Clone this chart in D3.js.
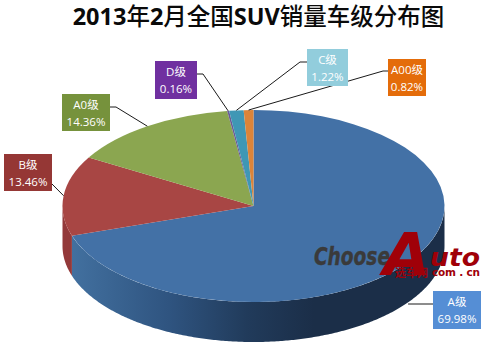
<!DOCTYPE html>
<html>
<head>
<meta charset="utf-8">
<script src="https://cdn.jsdelivr.net/npm/d3@7"></script>
<style>
  html, body { margin: 0; padding: 0; background: #fff; }
  svg { display: block; }
</style>
</head>
<body>
<div id="chart"></div>
<script>
const categories = ["A级", "B级", "A0级", "D级", "C级", "A00级"];
const shares = [69.98, 13.46, 14.36, 0.16, 1.22, 0.82];
const titleParts = ["2013", "年", "2", "月全国", "SUV", "销量车级分布图"];

const topColors = ["#4371a6", "#a84644", "#8ba650", "#6a5a96", "#3f97b5", "#dc8439"];
const sideColors = ["#1b2e48", "#93393a", "#6d843e", "#4f4370", "#2f7690", "#b06a2c"];
const boxColors = ["#558ed5", "#953735", "#76923c", "#7030a0", "#92cddc", "#e46c0a"];

// label box top-left + elbow, by slice
const boxLayout = [
  { x: 433, y: 291, w: 48, h: 38, elbowX: 433, elbowY: 304 },
  { x: 4, y: 154, w: 48, h: 37, elbowX: 52, elbowY: 184 },
  { x: 62, y: 94, w: 48, h: 37, elbowX: 116, elbowY: 107 },
  { x: 155, y: 61, w: 42, h: 38, elbowX: 203, elbowY: 74 },
  { x: 307, y: 49, w: 41, h: 37, elbowX: 300, elbowY: 62 },
  { x: 388, y: 59, w: 38, h: 37, elbowX: 383, elbowY: 71 }
];

const width = 486, height = 353;
const cx = 253.5, cy = 206, rx = 191, ry = 96, depth = 40;

const svg = d3.select("#chart").append("svg")
  .attr("width", width)
  .attr("height", height)
  .style("font-family", "'Open Sans', 'Noto Sans CJK SC', sans-serif");

svg.append("text")
  .attr("x", 258.5)
  .attr("y", 25)
  .attr("text-anchor", "middle")
  .style("font-size", "23.5px")
  .style("fill", "#0a0a0a")
  .selectAll("tspan")
  .data(titleParts)
  .join("tspan")
  .style("font-weight", (d, i) => i % 2 === 0 ? "700" : "500")
  .text(d => d);

const pie = d3.pie().sort(null).value(d => d);
const slices = pie(shares);

const ex = a => cx + rx * Math.sin(a);
const ey = a => cy - ry * Math.cos(a);

const defs = svg.append("defs");
const sideGrad = defs.append("linearGradient")
  .attr("id", "sideA")
  .attr("gradientUnits", "userSpaceOnUse")
  .attr("x1", ex(slices[0].endAngle)).attr("y1", 0)
  .attr("x2", ex(Math.PI / 2)).attr("y2", 0);
[[0, "#42709f"], [0.26, "#2f5480"], [0.47, "#213b5b"], [0.65, "#1b2e48"], [1, "#1b2e48"]].forEach(s => {
  sideGrad.append("stop").attr("offset", s[0]).attr("stop-color", s[1]);
});

// side wall, only the part of a slice facing the viewer
const sideG = svg.append("g");
slices.forEach((s, i) => {
  const a0 = Math.max(s.startAngle, Math.PI / 2);
  const a1 = Math.min(s.endAngle, Math.PI * 1.5);
  if (a1 <= a0) return;
  const angles = d3.range(a0, a1, 0.01).concat([a1]);
  const upper = angles.map(a => [ex(a), ey(a)]);
  const lower = angles.slice().reverse().map(a => [ex(a), ey(a) + depth]);
  sideG.append("path")
    .attr("d", d3.line()(upper.concat(lower)) + "Z")
    .attr("fill", i === 0 ? "url(#sideA)" : sideColors[i]);
});

// top face: unit arc squashed to the ellipse
const arc = d3.arc().innerRadius(0).outerRadius(rx);
svg.append("g")
  .attr("transform", `translate(${cx},${cy}) scale(1,${ry / rx})`)
  .selectAll("path")
  .data(slices)
  .join("path")
  .attr("d", arc)
  .attr("fill", (d, i) => topColors[i]);

// leader lines
slices.forEach((s, i) => {
  const b = boxLayout[i];
  const mid = (s.startAngle + s.endAngle) / 2;
  const onSide = i === 0;
  const px = ex(mid), py = onSide ? b.elbowY : ey(mid);
  const boxEdge = b.elbowX > b.x + b.w / 2 ? b.x + b.w : b.x;
  svg.append("path")
    .attr("d", d3.line()([[boxEdge, b.elbowY], [b.elbowX, b.elbowY], [px, py]]))
    .attr("fill", "none")
    .attr("stroke", "#1a1a1a")
    .attr("stroke-width", 1);
});

// label boxes
const labels = svg.append("g").selectAll("g")
  .data(slices)
  .join("g")
  .attr("transform", (d, i) => `translate(${boxLayout[i].x},${boxLayout[i].y})`);
labels.append("rect")
  .attr("width", (d, i) => boxLayout[i].w)
  .attr("height", (d, i) => boxLayout[i].h)
  .attr("fill", (d, i) => boxColors[i]);
labels.append("text")
  .attr("x", (d, i) => boxLayout[i].w / 2)
  .attr("y", 15)
  .attr("text-anchor", "middle")
  .style("font-size", "11.5px")
  .style("fill", "#fff")
  .text((d, i) => categories[i]);
labels.append("text")
  .attr("x", (d, i) => boxLayout[i].w / 2)
  .attr("y", 32)
  .attr("text-anchor", "middle")
  .style("font-size", "11.5px")
  .style("fill", "#fff")
  .text(d => d.value.toFixed(2) + "%");

// watermark
const wm = svg.append("g").style("font-family", "'DejaVu Sans', sans-serif")
  .style("font-weight", "700").style("font-style", "italic");
wm.append("text").attr("x", 314).attr("y", 265)
  .style("font-size", "24px").style("fill", "#3a3a3a").style("stroke", "#3a3a3a").style("stroke-width", 0.4)
  .attr("textLength", 76).attr("lengthAdjust", "spacingAndGlyphs").text("Choose");
wm.append("text").attr("x", 383).attr("y", 275)
  .style("font-size", "58px").style("fill", "#a00008")
  .attr("textLength", 47).attr("lengthAdjust", "spacingAndGlyphs").text("A");
wm.append("text").attr("x", 430).attr("y", 266)
  .style("font-size", "25px").style("fill", "#a00008")
  .attr("textLength", 50).attr("lengthAdjust", "spacingAndGlyphs").text("uto");
wm.append("text").attr("x", 395).attr("y", 277)
  .style("font-size", "11px").style("font-style", "normal").style("fill", "#a00008")
  .style("font-family", "'Noto Sans CJK SC', sans-serif").text("选车网");
wm.append("text").attr("x", 432).attr("y", 276)
  .style("font-size", "10.5px").style("font-style", "normal").style("fill", "#a00008")
  .attr("textLength", 48).text("com . cn");
</script>
</body>
</html>
